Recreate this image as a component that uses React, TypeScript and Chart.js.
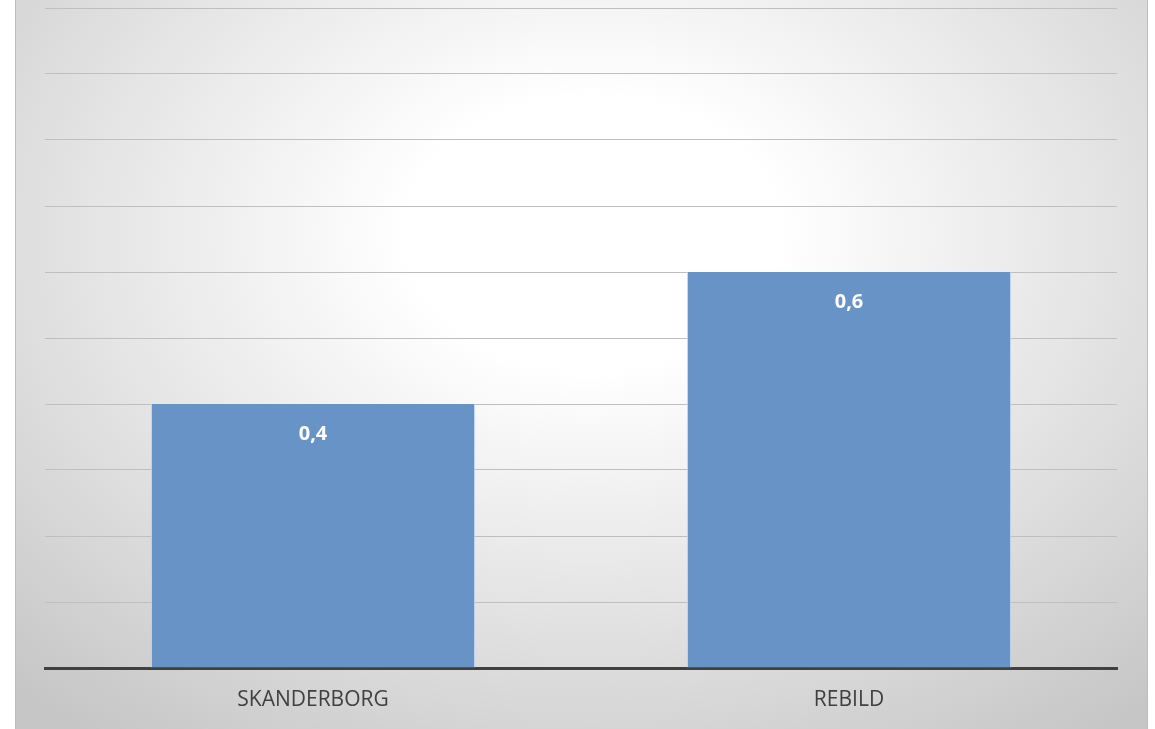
import React, { useEffect, useRef } from "react";
import { Chart, registerables } from "chart.js";

Chart.register(...registerables);

const categories = ["SKANDERBORG", "REBILD"];
const values = [0.4, 0.6];
const valueLabels = ["0,4", "0,6"];

const labelPlugin = {
  id: "barLabels",
  afterDatasetsDraw(chart: any) {
    const ctx = chart.ctx;
    const meta = chart.getDatasetMeta(0);
    ctx.save();
    ctx.fillStyle = "#ffffff";
    ctx.font = "bold 20px 'Open Sans'";
    ctx.textAlign = "center";
    ctx.textBaseline = "middle";
    meta.data.forEach((bar: any, i: number) => {
      ctx.fillText(valueLabels[i], bar.x, bar.y + 30);
    });
    ctx.restore();
  },
};

export default function App() {
  const ref = useRef<HTMLCanvasElement>(null);
  useEffect(() => {
    if (!ref.current) return;
    const chart = new Chart(ref.current, {
      type: "bar",
      data: {
        labels: categories,
        datasets: [
          {
            data: values,
            backgroundColor: "#6893c7",
            borderColor: "rgba(200,220,245,0.9)",
            borderWidth: { left: 1, right: 1, top: 0, bottom: 0 },
            categoryPercentage: 0.605,
            barPercentage: 1,
          },
        ],
      },
      options: {
        animation: false,
        responsive: false,
        maintainAspectRatio: false,
        layout: { padding: { left: 30, right: 31, top: 8, bottom: 0 } },
        plugins: { legend: { display: false }, tooltip: { enabled: false } },
        scales: {
          x: {
            grid: { display: false, drawTicks: false },
            border: { display: true, color: "#404040", width: 3 },
            ticks: {
              color: "#404040",
              font: { size: 21, family: "'Open Sans'" },
              padding: 19,
            },
            afterFit(scale: any) {
              scale.height = 61;
            },
          },
          y: {
            min: 0,
            max: 1,
            ticks: { display: false, stepSize: 0.1 },
            grid: { color: "#bfbfbf", lineWidth: 1, drawTicks: false },
            border: { display: false },
            afterFit(scale: any) {
              scale.width = 0;
            },
          },
        },
      },
      plugins: [labelPlugin],
    });
    return () => chart.destroy();
  }, []);

  return (
    <div style={{ position: "fixed", left: 0, top: 0, width: 1155, height: 729, background: "#ffffff", overflow: "hidden" }}>
      <div
        style={{
          position: "absolute",
          left: 15,
          top: 0,
          width: 1133,
          height: 729,
          boxSizing: "border-box",
          borderLeft: "1px solid #bdbdbd",
          borderRight: "1px solid #bdbdbd",
          background:
            "radial-gradient(ellipse 75% 85% at 51% 32%, #ffffff 0%, #ffffff 22%, #e4e4e4 60%, #c6c6c6 100%)",
        }}
      >
        <canvas ref={ref} width={1133} height={729} style={{ position: "absolute", left: -1, top: 0 }} />
      </div>
    </div>
  );
}
